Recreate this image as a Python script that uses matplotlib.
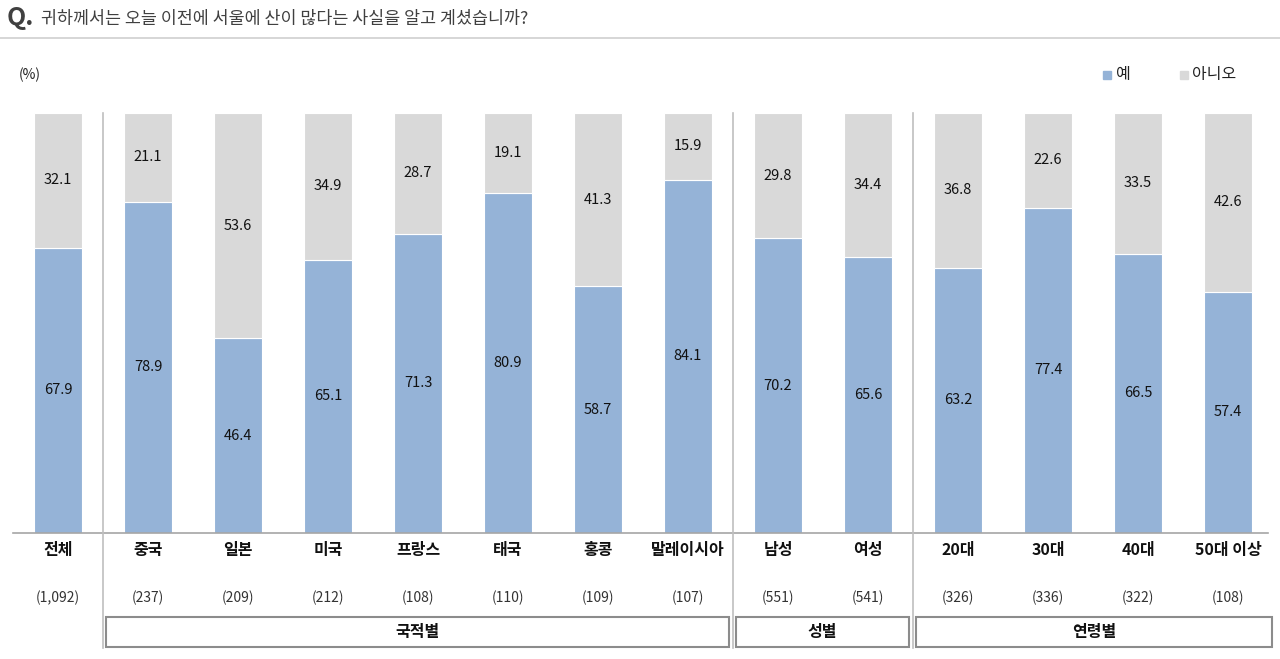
import matplotlib.pyplot as plt
from matplotlib.patches import Rectangle
from matplotlib.transforms import blended_transform_factory

plt.rcParams['font.family'] = ['Noto Sans CJK KR', 'DejaVu Sans']

categories = ['전체', '중국', '일본', '미국', '프랑스', '태국', '홍콩', '말레이시아',
              '남성', '여성', '20대', '30대', '40대', '50대 이상']
counts = ['(1,092)', '(237)', '(209)', '(212)', '(108)', '(110)', '(109)', '(107)',
          '(551)', '(541)', '(326)', '(336)', '(322)', '(108)']
yes_vals = [67.9, 78.9, 46.4, 65.1, 71.3, 80.9, 58.7, 84.1, 70.2, 65.6, 63.2, 77.4, 66.5, 57.4]
no_vals = [32.1, 21.1, 53.6, 34.9, 28.7, 19.1, 41.3, 15.9, 29.8, 34.4, 36.8, 22.6, 33.5, 42.6]
groups = [('국적별', 1, 7), ('성별', 8, 9), ('연령별', 10, 13)]
separators = [0.5, 7.5, 9.5]

blue = '#95B3D7'
grey = '#D9D9D9'

W, H = 1280, 659
fig = plt.figure(figsize=(W / 100, H / 100), dpi=100)
ax = fig.add_axes([13 / W, 1 - 533 / H, (1268 - 13) / W, (533 - 113) / H])
ax.set_xlim(-0.5, 13.444)
ax.set_ylim(0, 100)
ax.set_axis_off()

x = list(range(len(categories)))
ax.bar(x, yes_vals, width=0.533, color=blue, edgecolor='white', linewidth=0.8)
ax.bar(x, no_vals, width=0.533, bottom=yes_vals, color=grey, edgecolor='white', linewidth=0.8)

for i in x:
    ax.text(i, yes_vals[i] / 2, f'{yes_vals[i]:.1f}', ha='center', va='center',
            fontsize=10.5, color='#111111')
    ax.text(i, yes_vals[i] + no_vals[i] / 2, f'{no_vals[i]:.1f}', ha='center', va='center',
            fontsize=10.5, color='#111111')

ax.axhline(0, color='#A6A6A6', lw=1.2, clip_on=False)

# labels under the bars: x in data, y in figure fraction
tr = blended_transform_factory(ax.transData, fig.transFigure)
for i in x:
    ax.text(i, 1 - 550 / H, categories[i], transform=tr, ha='center', va='center',
            fontsize=11.5, fontweight='bold', color='#111111')
    ax.text(i, 1 - 598 / H, counts[i], transform=tr, ha='center', va='center',
            fontsize=10, color='#333333')

for s in separators:
    ax.plot([s, s], [1 - 113 / H, 1 - 648 / H], transform=tr, color='#BFBFBF', lw=1.2,
            clip_on=False)

for name, a, b in groups:
    x0 = a - 0.5 + 0.035
    x1 = b + 0.5 - 0.045
    if b == 13:
        x1 = 13.49
    ax.add_patch(Rectangle((x0, 1 - 647 / H), x1 - x0, 30 / H, transform=tr,
                           fill=False, edgecolor='#8C8C8C', lw=1.5, clip_on=False))
    ax.text((x0 + x1) / 2, 1 - 632 / H, name, transform=tr, ha='center', va='center',
            fontsize=11.5, fontweight='bold', color='#111111')

# title
fig.text(7 / W, 1 - 18 / H, 'Q.', fontsize=18, fontweight='bold', color='#404040',
         ha='left', va='center')
fig.text(41 / W, 1 - 19 / H, '귀하께서는 오늘 이전에 서울에 산이 많다는 사실을 알고 계셨습니까?',
         fontsize=12.5, color='#404040', ha='left', va='center')
fig.add_artist(plt.Line2D([0, 1], [1 - 38 / H, 1 - 38 / H], color='#D0D0D0', lw=1.2))

fig.text(19 / W, 1 - 75 / H, '(%)', fontsize=10, color='#222222', ha='left', va='center')

# legend
fig.add_artist(Rectangle((1103 / W, 1 - 79 / H), 8 / W, 8 / H, color=blue))
fig.text(1116 / W, 1 - 75 / H, '예', fontsize=11.5, color='#222222', ha='left', va='center')
fig.add_artist(Rectangle((1180 / W, 1 - 79 / H), 8 / W, 8 / H, color=grey))
fig.text(1192 / W, 1 - 75 / H, '아니오', fontsize=11.5, color='#222222', ha='left', va='center')

fig.savefig('out.png', dpi=100, facecolor='white')
